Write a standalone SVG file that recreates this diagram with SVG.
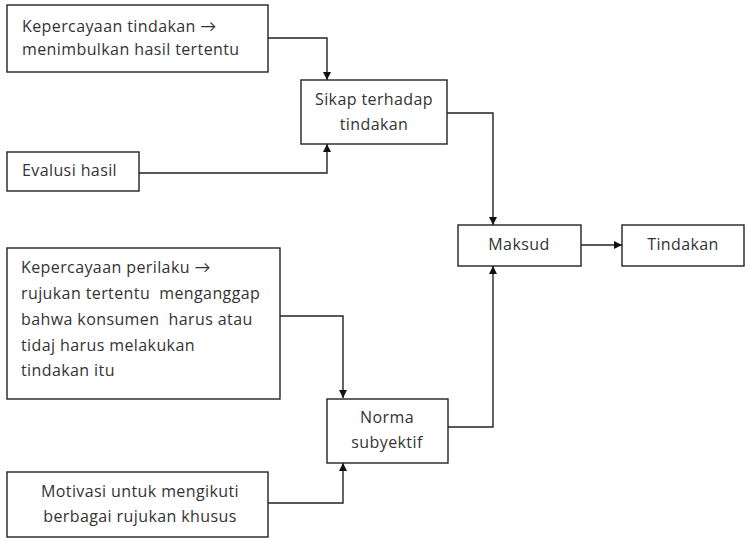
<svg xmlns="http://www.w3.org/2000/svg" width="749" height="538" viewBox="0 0 749 538">
  <style>
    .box { fill: #fff; stroke: #222; stroke-width: 1.4; }
    .lbl { font-family: "Open Sans", Lato, "Liberation Sans", sans-serif; font-size: 16px; fill: #333; letter-spacing: 0.4px; }
    .mid { text-anchor: middle; }
    .edge { fill: none; stroke: #222; stroke-width: 1.4; marker-end: url(#arrow); }
  </style>
  <defs>
    <marker id="arrow" viewBox="0 0 10 10" refX="10" refY="5" markerWidth="8" markerHeight="8" markerUnits="userSpaceOnUse" orient="auto">
      <path d="M0,0 L10,5 L0,10 z" fill="#111"/>
    </marker>
  </defs>
  <rect width="749" height="538" fill="#fff"/>

  <g id="connectors">
    <path class="edge" d="M268,38 H327 V80"/>
    <path class="edge" d="M139,173 H327 V144"/>
    <path class="edge" d="M447,113 H493 V225"/>
    <path class="edge" d="M581,245 H622"/>
    <path class="edge" d="M280,316 H343 V398"/>
    <path class="edge" d="M268,503 H343 V463"/>
    <path class="edge" d="M448,427 H493 V266"/>
  </g>

  <g id="kepercayaan-tindakan">
    <rect class="box" x="7" y="5" width="261" height="67"/>
    <text class="lbl" x="22" y="32">Kepercayaan tindakan →</text>
    <text class="lbl" x="22" y="55">menimbulkan hasil tertentu</text>
  </g>

  <g id="sikap">
    <rect class="box" x="301" y="80" width="146" height="64"/>
    <text class="lbl mid" x="374" y="105">Sikap terhadap</text>
    <text class="lbl mid" x="374" y="130">tindakan</text>
  </g>

  <g id="evalusi">
    <rect class="box" x="7" y="152" width="132" height="39"/>
    <text class="lbl" x="22" y="176">Evalusi hasil</text>
  </g>

  <g id="maksud">
    <rect class="box" x="458" y="225" width="123" height="41"/>
    <text class="lbl mid" x="519" y="250">Maksud</text>
  </g>

  <g id="tindakan">
    <rect class="box" x="622" y="225" width="122" height="41"/>
    <text class="lbl mid" x="683" y="250">Tindakan</text>
  </g>

  <g id="kepercayaan-perilaku">
    <rect class="box" x="7" y="248" width="273" height="151"/>
    <text class="lbl" x="21" y="273">Kepercayaan perilaku →</text>
    <text class="lbl" x="21" y="299" xml:space="preserve">rujukan tertentu  menganggap</text>
    <text class="lbl" x="21" y="325" xml:space="preserve">bahwa konsumen  harus atau</text>
    <text class="lbl" x="21" y="351">tidaj harus melakukan</text>
    <text class="lbl" x="21" y="376">tindakan itu</text>
  </g>

  <g id="norma">
    <rect class="box" x="327" y="399" width="121" height="64"/>
    <text class="lbl mid" x="387" y="423">Norma</text>
    <text class="lbl mid" x="387" y="448">subyektif</text>
  </g>

  <g id="motivasi">
    <rect class="box" x="7" y="472" width="261" height="65"/>
    <text class="lbl mid" x="140" y="497">Motivasi untuk mengikuti</text>
    <text class="lbl mid" x="140" y="522">berbagai rujukan khusus</text>
  </g>
</svg>
